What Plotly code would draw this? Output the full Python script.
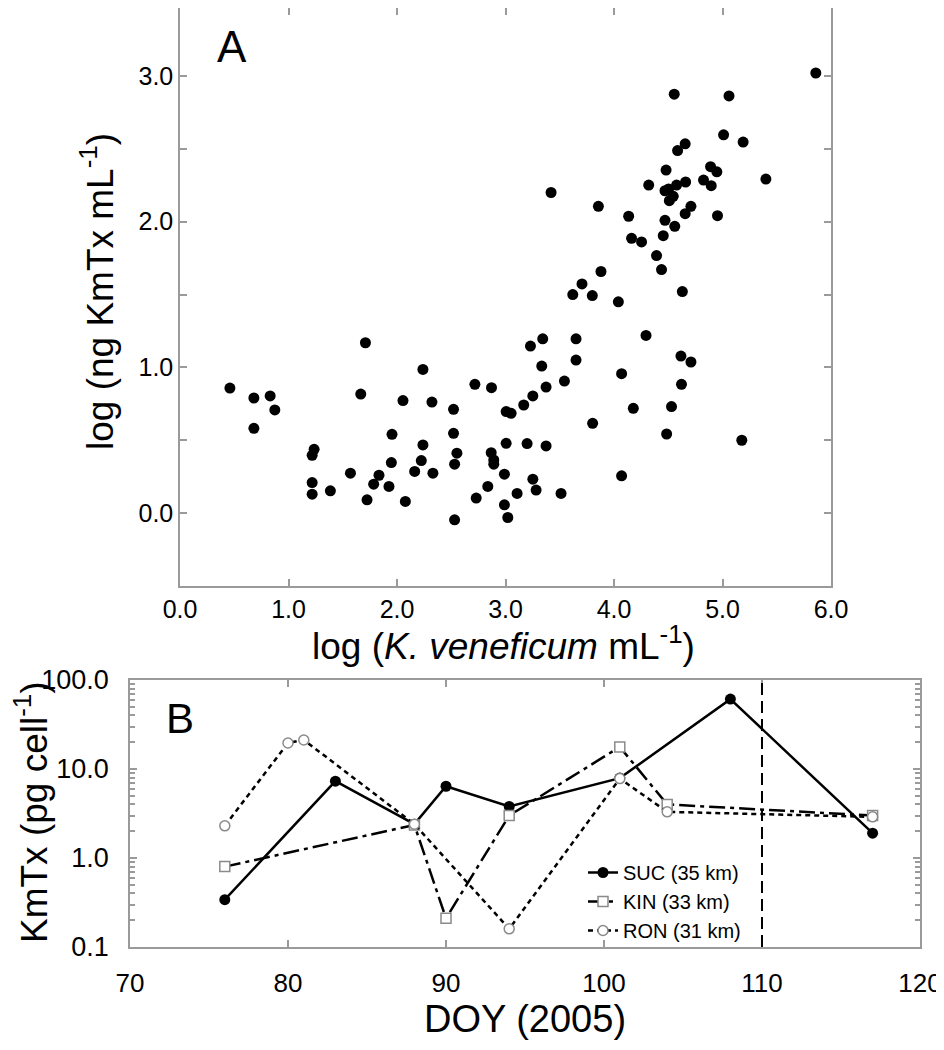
import plotly.graph_objects as go

# ---------------- Panel A data: log cell density vs log toxin ----------------
kv_log = [5.86, 4.555, 5.06, 5.01, 5.19, 4.656, 4.586, 4.48, 4.89, 4.948,
          5.40, 4.32, 4.825, 4.896, 4.66, 4.577, 4.47, 4.503, 4.546, 4.51,
          3.856, 4.135, 4.709, 4.656, 4.954, 4.47, 4.56, 4.454, 4.162, 4.254,
          4.392, 4.438, 3.88, 3.705, 3.80, 4.04, 4.63, 3.62, 3.42,
          3.65, 3.65, 4.295, 4.617, 4.709, 4.07, 4.622, 4.178, 4.53, 3.803,
          4.485, 5.178, 4.07,
          1.709, 0.46, 0.681, 0.831, 0.874, 0.681, 1.666, 2.239, 2.055, 2.322,
          2.521, 2.718, 2.871, 3.006, 3.052, 3.168, 3.252, 3.374, 3.543, 3.23,
          3.343, 3.334, 1.236, 1.218, 1.218, 1.218, 1.386, 1.571, 1.724, 1.785,
          1.834, 1.926, 1.954, 1.948, 2.077, 2.163, 2.224, 2.239, 2.331, 2.521,
          2.552, 2.531, 2.531, 2.73, 2.837, 2.868, 2.892, 2.892, 3.006, 2.99,
          2.99, 3.021, 3.107, 3.199, 3.252, 3.282, 3.374, 3.512]
kmtx_log = [3.02, 2.875, 2.863, 2.596, 2.546, 2.534, 2.488, 2.354, 2.377, 2.342,
            2.292, 2.251, 2.285, 2.247, 2.272, 2.251, 2.212, 2.224, 2.174, 2.144,
            2.105, 2.037, 2.105, 2.055, 2.041, 2.009, 1.968, 1.904, 1.886, 1.861,
            1.767, 1.671, 1.658, 1.573, 1.493, 1.45, 1.52, 1.50, 2.20,
            1.196, 1.05, 1.219, 1.078, 1.037, 0.957, 0.884, 0.719, 0.731, 0.616,
            0.543, 0.50, 0.256,
            1.169, 0.858, 0.79, 0.804, 0.708, 0.582, 0.817, 0.986, 0.772, 0.762,
            0.712, 0.884, 0.861, 0.697, 0.685, 0.742, 0.804, 0.865, 0.906, 1.146,
            1.196, 1.009, 0.438, 0.397, 0.21, 0.13, 0.153, 0.274, 0.091, 0.199,
            0.26, 0.183, 0.541, 0.347, 0.08, 0.286, 0.361, 0.468, 0.274, 0.548,
            0.411, 0.336, -0.046, 0.103, 0.183, 0.415, 0.365, 0.336, 0.479, 0.267,
            0.057, -0.03, 0.135, 0.477, 0.233, 0.158, 0.461, 0.135]

# ---------------- Panel B data: toxin per cell by day of year ----------------
suc_doy = [76, 83, 88, 90, 94, 101, 108, 117]
suc_val = [0.34, 7.3, 2.4, 6.4, 3.8, 7.9, 61, 1.9]
kin_doy = [76, 88, 90, 94, 101, 104, 117]
kin_val = [0.8, 2.35, 0.21, 3.0, 17.7, 4.0, 3.0]
ron_doy = [76, 80, 81, 88, 94, 101, 104, 117]
ron_val = [2.3, 19.6, 21.2, 2.4, 0.16, 7.8, 3.3, 2.9]
marker_day = 110

b_yticks = [0.1, 1, 10, 100]
b_ylabels = ["0.1", "1.0", "10.0", "100.0"]
b_minor_ticks = [m * d for d in (0.1, 1, 10) for m in range(2, 10)]

FONT = "Arial, Liberation Sans, Helvetica, sans-serif"
AXC = "#9a9a9a"

fig = go.Figure()

fig.add_trace(go.Scatter(
    x=kv_log, y=kmtx_log, mode="markers", showlegend=False,
    marker=dict(color="black", size=11, line=dict(width=0)),
    xaxis="x", yaxis="y"))

fig.add_trace(go.Scatter(
    x=suc_doy, y=suc_val, mode="lines+markers", name="SUC (35 km)",
    line=dict(color="black", width=2.5),
    marker=dict(symbol="circle", size=11, color="black"),
    xaxis="x2", yaxis="y2"))
fig.add_trace(go.Scatter(
    x=kin_doy, y=kin_val, mode="lines+markers", name="KIN (33 km)",
    line=dict(color="black", width=2.5, dash="16px,5px,4px,5px"),
    marker=dict(symbol="square", size=10, color="white",
                line=dict(color="#8a8a8a", width=1.5)),
    xaxis="x2", yaxis="y2"))
fig.add_trace(go.Scatter(
    x=ron_doy, y=ron_val, mode="lines+markers", name="RON (31 km)",
    line=dict(color="black", width=2.5, dash="5px,4px"),
    marker=dict(symbol="circle", size=10, color="white",
                line=dict(color="#8a8a8a", width=1.5)),
    xaxis="x2", yaxis="y2"))

fig.add_shape(type="line", xref="x2", yref="y2 domain",
              x0=marker_day, x1=marker_day, y0=0, y1=1,
              line=dict(color="black", width=2, dash="12px,6px"))

axis_common = dict(showline=True, linecolor=AXC, linewidth=1.5, mirror="ticks",
                   ticks="inside", ticklen=7, tickcolor=AXC, tickwidth=1.5,
                   showgrid=False, zeroline=False, automargin=False)

# page body has an 8px margin, so the figure is 8px smaller each way
W, H = 936, 1042
L, R, T, B = 122, 24, 0, 103
PW, PH = W - L - R, H - T - B   # 790 x 939


def px(xw):
    return (xw - 130) / PW


def py(yw):
    return (947 - yw) / PH


fig.update_layout(
    width=W, height=H,
    margin=dict(l=L, r=R, t=T, b=B),
    paper_bgcolor="white", plot_bgcolor="white",
    font=dict(family=FONT, color="black"),
    xaxis=dict(domain=[px(180), px(831)], range=[0, 6], anchor="y",
               tickmode="linear", tick0=0, dtick=1, tickformat=".1f",
               tickfont=dict(size=25),
               **axis_common),
    yaxis=dict(domain=[py(586), 1.0], range=[-0.5, 3.466], anchor="x",
               tickmode="linear", tick0=0, dtick=1, tickformat=".1f",
               tickfont=dict(size=25),
               minor=dict(tickmode="linear", tick0=0, dtick=0.5, ticks="inside",
                          ticklen=7, tickcolor=AXC, tickwidth=1.5, showgrid=False),
               **axis_common),
    xaxis2=dict(domain=[0, 1], range=[70, 120], anchor="y2",
                tickmode="linear", tick0=70, dtick=10,
                tickfont=dict(size=26), ticklabelstandoff=12,
                title=dict(text="DOY (2005)", font=dict(size=38), standoff=2),
                **axis_common),
    yaxis2=dict(domain=[0, py(680)], type="log", range=[-1, 2], anchor="x2",
                tickmode="array", tickvals=b_yticks, ticktext=b_ylabels,
                tickfont=dict(size=27), ticklabelstandoff=14,
                minor=dict(tickmode="array", tickvals=b_minor_ticks,
                           ticks="inside", ticklen=5, tickcolor=AXC,
                           tickwidth=1.5, showgrid=False),
                **axis_common),
    legend=dict(x=px(583), y=py(853), xanchor="left", yanchor="top",
                bgcolor="rgba(0,0,0,0)", font=dict(size=20),
                tracegroupgap=0, itemwidth=30),
    annotations=[
        dict(text="A", xref="paper", yref="paper", x=px(232), y=py(46),
             showarrow=False, font=dict(size=44),
             xanchor="center", yanchor="middle"),
        dict(text="B", xref="paper", yref="paper", x=px(180), y=py(718),
             showarrow=False, font=dict(size=42),
             xanchor="center", yanchor="middle"),
        dict(text="log (ng KmTx mL<sup>-1</sup>)", xref="paper", yref="paper",
             x=px(97), y=py(292), textangle=-90, showarrow=False,
             font=dict(size=37), xanchor="center", yanchor="middle"),
        dict(text="log (<i>K. veneficum</i> mL<sup>-1</sup>)", xref="paper",
             yref="paper", x=px(503), y=py(643), showarrow=False,
             font=dict(size=37), xanchor="center", yanchor="middle"),
        dict(text="KmTx (pg cell<sup>-1</sup>)", xref="paper", yref="paper",
             x=px(31), y=py(812), textangle=-90, showarrow=False,
             font=dict(size=37), xanchor="center", yanchor="middle"),
    ],
)

fig.write_html("out.html")
